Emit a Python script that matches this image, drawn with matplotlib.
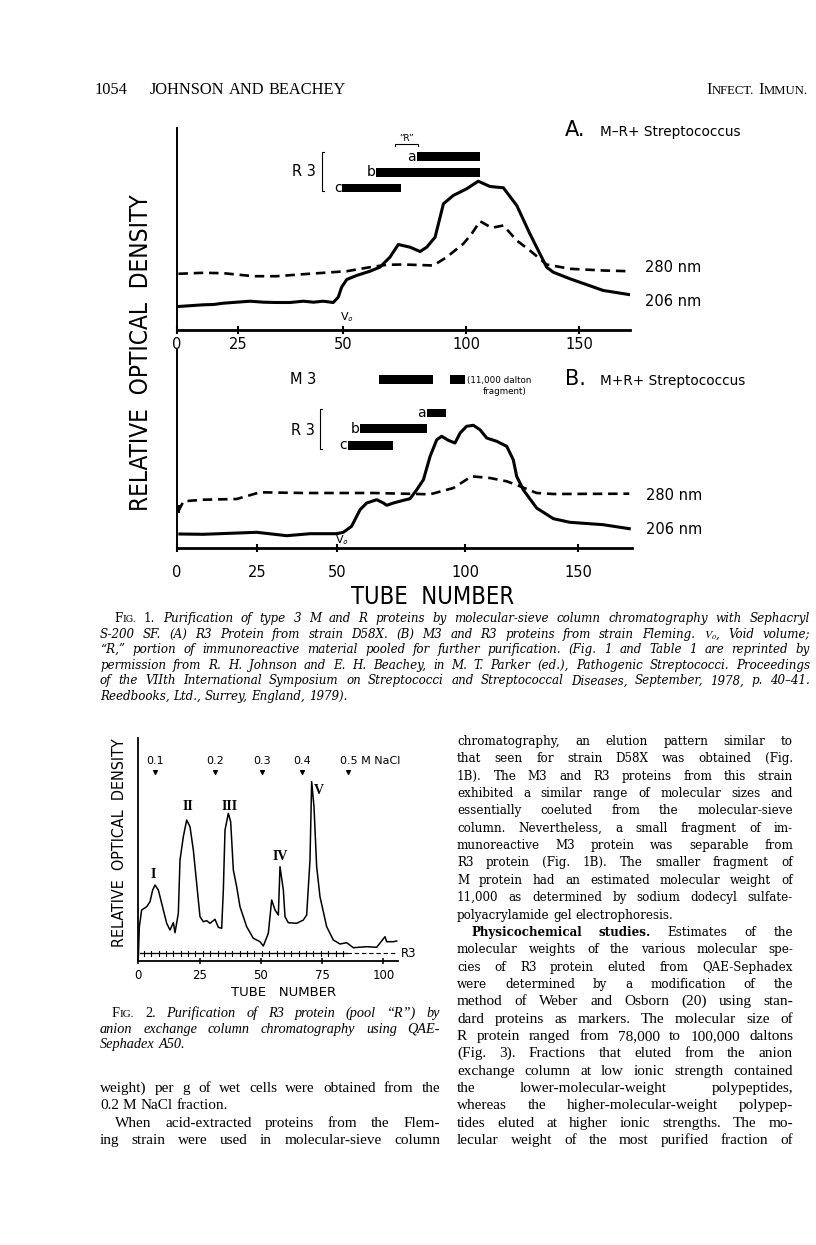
#!/usr/bin/env python
"""
Page 1054 of Johnson & Beachey (Infect. Immun.): Fig. 1 (molecular-sieve
chromatography, panels A and B), Fig. 2 (QAE-Sephadex) and the page text.
Writes out.png.
"""

import numpy as np
import matplotlib

matplotlib.use("Agg")
import matplotlib.pyplot as plt
from matplotlib.lines import Line2D
from matplotlib import patheffects
from matplotlib.ticker import FixedLocator, NullLocator

W, H = 816, 1245

plt.rcParams.update({"mathtext.fontset": "stix", "font.family": "DejaVu Sans"})

# ---------------- Fig. 1A: M-R+ strain (tube number, relative OD) ----------
A206_TUBE = [0.7, 10.8, 14.9, 18.9, 24.3, 27.8, 31.0, 34.1, 37.3, 40.5, 42.9,
             45.2, 47.6, 48.8, 49.6, 51.4, 55.4, 60.9, 64.9, 69.0, 72.4, 77.2,
             81.3, 84.0, 87.4, 90.8, 94.8, 100.3, 105.4, 110.6, 116.5, 122.4,
             128.2, 135.6, 138.5, 145.9, 160.6, 171.8]
A206_OD = [23.0, 24.7, 25.0, 26.3, 27.3, 28.3, 27.3, 27.0, 27.0, 28.3, 27.3,
           28.3, 27.0, 32.3, 42.3, 50.0, 54.0, 58.3, 62.3, 72.3, 85.0, 82.3,
           78.0, 82.3, 92.3, 125.7, 134.0, 140.7, 148.3, 143.0, 141.7, 124.0,
           95.7, 62.3, 57.3, 50.7, 39.0, 35.0]
A280_TUBE = [0.7, 10.8, 18.9, 28.6, 34.1, 40.5, 51.4, 60.9, 67.7, 74.5, 86.7,
             92.1, 98.9, 102.5, 106.2, 111.3, 116.5, 122.4, 128.2, 135.6, 145.9,
             160.6, 171.8]
A280_OD = [55.7, 56.7, 56.3, 53.3, 53.3, 55.3, 58.3, 62.3, 64.7, 65.0, 64.0,
           72.3, 85.7, 95.7, 108.3, 101.7, 104.0, 89.0, 79.0, 65.0, 60.7, 59.0,
           58.3]
A_BAR_LABEL = ["a", "b", "c"]
A_BAR_START = [79.9, 63.3, 49.8]
A_BAR_END = [106.2, 106.2, 73.4]
A_BAR_LEVEL = [172.8, 157.3, 141.5]

# ---------------- Fig. 1B: M+R+ strain ----------------------------------------
B206_TUBE = [1.0, 8.3, 25.0, 34.4, 41.7, 50.0, 52.6, 55.8, 59.1, 61.7, 65.6,
             68.2, 69.5, 72.1, 76.0, 78.6, 81.2, 83.8, 86.4, 89.0, 90.9, 93.5,
             96.1, 98.1, 100.7, 103.7, 106.6, 109.6, 114.0, 118.4, 121.3, 122.8,
             125.7, 131.6, 139.0, 146.3, 161.0, 172.5]
B206_OD = [14.0, 13.7, 15.7, 12.3, 14.3, 14.3, 15.7, 21.7, 38.3, 45.0, 48.3,
           45.0, 42.7, 45.0, 47.7, 49.3, 58.3, 68.3, 91.7, 108.3, 111.7, 107.7,
           105.0, 115.0, 121.7, 122.7, 118.3, 110.0, 106.7, 101.7, 88.3, 71.7,
           58.3, 40.0, 29.3, 25.7, 23.3, 19.3]
B280_TUBE = [0.5, 0.5, 2.1, 8.3, 18.75, 26.0, 39.6, 64.3, 86.4, 95.5, 102.9,
             111.0, 118.4, 124.3, 131.6, 139.0, 172.5]
B280_OD = [41.7, 36.7, 46.7, 48.3, 49.0, 55.7, 55.0, 55.0, 53.7, 60.0, 71.7,
           70.0, 66.7, 61.7, 55.0, 54.0, 54.3]
B_M3_START = [66.6, 94.3]
B_M3_END = [87.7, 99.9]
B_M3_LEVEL = [168.3, 168.3]
B_BAR_LABEL = ["a", "b", "c"]
B_BAR_START = [85.1, 59.1, 54.3]
B_BAR_END = [92.5, 85.1, 71.8]
B_BAR_LEVEL = [135.0, 119.2, 102.8]

FIG1_TICKS = [0, 25, 50, 100, 150]

# ---------------- Fig. 2: QAE-Sephadex A50 -----------------------------------
F2_TUBE = [0.0, 0.42, 1.37, 3.42, 4.78, 5.87, 6.82, 8.18, 9.54, 11.58, 12.94,
           14.30, 14.98, 16.34, 17.02, 18.38, 19.74, 21.1, 22.46, 23.82, 25.18,
           26.54, 27.9, 29.27, 31.31, 32.67, 34.03, 34.71, 35.39, 36.75, 37.7,
           38.79, 40.15, 41.51, 44.23, 46.95, 49.67, 51.03, 53.07, 54.44, 55.8,
           57.16, 57.84, 59.2, 59.88, 61.24, 64.64, 67.36, 68.72, 70.08, 70.76,
           71.71, 72.8, 74.16, 76.88, 79.6, 82.33, 85.05, 87.77, 93.2, 97.29,
           100.69, 101.37, 104.1, 105.46]
F2_OD = [2.7, 34.3, 51.0, 54.3, 59.3, 71.0, 76.0, 71.0, 57.7, 37.7, 31.0,
         38.3, 28.3, 47.7, 101.0, 124.3, 141.0, 134.3, 111.0, 77.7, 44.3,
         39.3, 40.3, 37.7, 41.7, 33.7, 32.7, 71.0, 131.0, 147.7, 139.3,
         91.0, 74.3, 54.3, 34.3, 22.7, 19.3, 15.0, 27.7, 61.0, 51.0,
         46.0, 94.3, 71.0, 44.3, 38.3, 37.7, 41.0, 46.0, 101.0, 179.3,
         154.3, 94.3, 64.3, 34.3, 21.0, 17.0, 18.3, 13.3, 14.3, 13.7,
         24.3, 19.3, 19.3, 20.0]
R3_PLUS_TUBE = [0.8, 85.0]
R3_DASH_TUBE = [85.0, 106.0]
R3_LEVEL = 7.7
SALT_TUBE = [6.8, 31.3, 50.5, 66.7, 85.6]
SALT_LABEL = ["0.1", "0.2", "0.3", "0.4", "0.5 M NaCl"]
PEAK_LABEL = ["I", "II", "III", "IV", "V"]
PEAK_TUBE = [5.9, 20.4, 37.1, 57.8, 73.5]
PEAK_OD = [86.0, 154.3, 154.3, 104.3, 171.0]
FIG2_TICKS = [0, 25, 50, 75, 100]

# ---------------- page text ---------------------------------------------------
FIG1_CAPTION = [
    "FIG. 1. Purification of type 3 M and R proteins by molecular-sieve column chromatography with Sephacryl",
    "S-200 SF. (A) R3 Protein from strain D58X. (B) M3 and R3 proteins from strain Fleming. $V_o$, Void volume;",
    "\u201cR,\u201d portion of immunoreactive material pooled for further purification. (Fig. 1 and Table 1 are reprinted by",
    "permission from R. H. Johnson and E. H. Beachey, in M. T. Parker (ed.), Pathogenic Streptococci. Proceedings",
    "of the VIIth International Symposium on Streptococci and Streptococcal Diseases, September, 1978, p. 40\u201341.",
    "Reedbooks, Ltd., Surrey, England, 1979).",
]
FIG2_CAPTION = [
    "FIG. 2. Purification of R3 protein (pool \u201cR\u201d) by",
    "anion exchange column chromatography using QAE-",
    "Sephadex A50.",
]
LEFT_COL = [
    "weight) per g of wet cells were obtained from the",
    "0.2 M NaCl fraction.",
    "When acid-extracted proteins from the Flem-",
    "ing strain were used in molecular-sieve column",
]
RIGHT_COL = [
    "chromatography, an elution pattern similar to",
    "that seen for strain D58X was obtained (Fig.",
    "1B). The M3 and R3 proteins from this strain",
    "exhibited a similar range of molecular sizes and",
    "essentially coeluted from the molecular-sieve",
    "column. Nevertheless, a small fragment of im-",
    "munoreactive M3 protein was separable from",
    "R3 protein (Fig. 1B). The smaller fragment of",
    "M protein had an estimated molecular weight of",
    "11,000 as determined by sodium dodecyl sulfate-",
    "polyacrylamide gel electrophoresis.",
    "Physicochemical studies. Estimates of the",
    "molecular weights of the various molecular spe-",
    "cies of R3 protein eluted from QAE-Sephadex",
    "were determined by a modification of the",
    "method of Weber and Osborn (20) using stan-",
    "dard proteins as markers. The molecular size of",
    "R protein ranged from 78,000 to 100,000 daltons",
    "(Fig. 3). Fractions that eluted from the anion",
    "exchange column at low ionic strength contained",
    "the lower-molecular-weight polypeptides,",
    "whereas the higher-molecular-weight polypep-",
    "tides eluted at higher ionic strengths. The mo-",
    "lecular weight of the most purified fraction of",
]

# hand-drawn tube axes of Fig. 1: where the tick marks sit on the page (px)
A_AXIS_PX = [176.7, 238.3, 343.3, 466.0, 579.3]
B_AXIS_PX = [176.7, 256.7, 336.7, 465.0, 578.3]

CENTURY = {"family": "DejaVu Serif", "fontsize": 8.6}
TIMES = {"family": "Liberation Serif", "fontsize": 11}
CONDENSED = {"family": "DejaVu Sans", "fontstretch": "condensed"}


def axes_px(fig, left, top, right, bottom):
    return fig.add_axes([left / W, 1 - bottom / H, (right - left) / W, (bottom - top) / H])


def ftext(fig, x, y, s, **kw):
    kw.setdefault("va", "center")
    return fig.text(x / W, 1 - y / H, s, **kw)


def fline(fig, xs, ys, **kw):
    fig.add_artist(Line2D([x / W for x in xs], [1 - y / H for y in ys],
                          color="black", **kw))


def tube_functions(px):
    kt = np.array([-1000.0, 0, 25, 50, 100, 150, 1150.0])
    kp = np.asarray(px, float)
    s0 = (kp[1] - kp[0]) / 25.0
    s1 = (kp[-1] - kp[-2]) / 50.0
    kp = np.r_[kp[0] - 1000 * s0, kp, kp[-1] + 1000 * s1]
    return (lambda t: np.interp(t, kt, kp)), (lambda p: np.interp(p, kp, kt))


def space_width(fig, style):
    rend = fig.canvas.get_renderer()
    a = fig.text(0, 0, "n n", **style)
    b = fig.text(0, 0, "nn", **style)
    w = a.get_window_extent(rend).width - b.get_window_extent(rend).width
    a.remove()
    b.remove()
    return w


def set_words(fig, words, x0, x1, y, style, justify=True, align="left"):
    rend = fig.canvas.get_renderer()
    groups = []
    for word in words:
        runs = word if isinstance(word, list) else [(word, {})]
        parts = []
        for txt, extra in runs:
            t = fig.text(0, 1 - y / H, txt, ha="left", va="baseline", **{**style, **extra})
            parts.append((t, t.get_window_extent(rend).width))
        groups.append(parts)
    widths = [sum(w for _, w in g) for g in groups]
    if justify and len(groups) > 1:
        gap = (x1 - x0 - sum(widths)) / (len(groups) - 1)
    else:
        gap = space_width(fig, style)
    if align == "right":
        x0 = x1 - sum(widths) - gap * (len(groups) - 1)
    x = x0
    for g, wd in zip(groups, widths):
        xx = x
        for t, w in g:
            t.set_x(xx / W)
            xx += w
        x += wd + gap


def small_caps(word, size, extra=None):
    extra = extra or {}
    return [(word[0], dict(extra)), (word[1:].upper(), {**extra, "fontsize": size * 0.78})]


def caption(fig, lines, x0, x1, y0, step, style, indent):
    roman = {"style": "normal"}
    for i, line in enumerate(lines):
        words = line.split()
        if i == 0:
            words = [small_caps("FIG.", style["fontsize"], roman), [(words[1], roman)]] + words[2:]
        last = i == len(lines) - 1
        set_words(fig, words, x0 + (indent if i == 0 else 0), x1, y0 + i * step,
                  style, justify=not last)


def style_fig1_panel(ax, xmax, ytop, pad):
    ax.set_xlim(0, xmax)
    ax.set_ylim(0, ytop)
    ax.patch.set_alpha(0)
    for s in ("top", "right"):
        ax.spines[s].set_visible(False)
    ax.spines["bottom"].set_linewidth(2.0)
    ax.spines["left"].set_linewidth(1.4)
    ax.set_yticks([])
    ax.xaxis.set_major_locator(FixedLocator(FIG1_TICKS))
    ax.xaxis.set_minor_locator(NullLocator())
    ax.set_xticklabels([str(t) for t in FIG1_TICKS])
    ax.tick_params(axis="x", direction="inout", length=6, width=1.5, pad=pad,
                   labelsize=10.5)


def bars(ax, labels, starts, ends, levels):
    widths = np.asarray(ends) - np.asarray(starts)
    ax.barh(levels, widths, left=starts, height=8.7, color="black")
    for lab, x0, lv in zip(labels, starts, levels):
        ax.annotate(lab, (x0, lv), xytext=(-0.5, 0), textcoords="offset points",
                    ha="right", va="center", fontsize=10)


def main():
    fig = plt.figure(figsize=(W / 100, H / 100), dpi=100)

    # ---- header
    head = {"family": "Liberation Serif", "fontsize": 11.8}
    set_words(fig, ["1054"], 95, 140, 94, head, justify=False)
    set_words(fig, ["JOHNSON", "AND", "BEACHEY"], 150, 400, 94, head, justify=False)
    set_words(fig, [small_caps("INFECT.", 11.8), small_caps("IMMUN.", 11.8)], 600, 808, 94,
              head, justify=False, align="right")

    # ---- Fig. 1A
    fwd_a, inv_a = tube_functions(A_AXIS_PX)
    xmax_a = 172.5
    ax_a = axes_px(fig, A_AXIS_PX[0], 128, float(fwd_a(xmax_a)), 329.5)
    ax_a.set_xscale("function", functions=(fwd_a, inv_a))
    style_fig1_panel(ax_a, xmax_a, 201.5, 2.7)
    ax_a.plot(A206_TUBE, A206_OD, color="black", lw=2.2, solid_joinstyle="round")
    ax_a.plot(A280_TUBE, A280_OD, color="black", lw=1.9, ls=(0, (3.6, 2.2)))
    bars(ax_a, A_BAR_LABEL, A_BAR_START, A_BAR_END, A_BAR_LEVEL)

    ftext(fig, 304, 171, "R 3", fontsize=10.5, ha="center")
    fline(fig, [323.5, 321.7, 321.7, 323.5], [151.5, 151.5, 190.7, 190.7], lw=0.8)
    ftext(fig, 406.5, 138.5, "\u201cR\u201d", fontsize=6.5, ha="center")
    fline(fig, [395, 395, 418, 418], [146, 143.5, 143.5, 146], lw=0.8)
    ftext(fig, 575, 130, "A.", fontsize=15, ha="center")
    ftext(fig, 600, 132, "M\u2013R+ Streptococcus", fontsize=9.8, ha="left")
    ftext(fig, 645, 267, "280 nm", fontsize=10.5, ha="left")
    ftext(fig, 645, 301, "206 nm", fontsize=10.5, ha="left")
    ftext(fig, 347, 317, r"V$_{\mathsf{o}}$", fontsize=8, ha="center")

    # ---- Fig. 1B
    fwd_b, inv_b = tube_functions(B_AXIS_PX)
    xmax_b = 173.5
    ax_b = axes_px(fig, B_AXIS_PX[0], 350, float(fwd_b(xmax_b)), 548)
    ax_b.set_xscale("function", functions=(fwd_b, inv_b))
    style_fig1_panel(ax_b, xmax_b, 198, 9.0)
    ax_b.plot(B206_TUBE, B206_OD, color="black", lw=2.2, solid_joinstyle="round")
    ax_b.plot(B280_TUBE[1:], B280_OD[1:], color="black", lw=1.9, ls=(0, (3.6, 2.2)))
    ax_b.plot(B280_TUBE[:2], B280_OD[:2], color="black", lw=2.2)
    ax_b.barh(B_M3_LEVEL, np.asarray(B_M3_END) - np.asarray(B_M3_START),
              left=B_M3_START, height=8.7, color="black")
    bars(ax_b, B_BAR_LABEL, B_BAR_START, B_BAR_END, B_BAR_LEVEL)

    ftext(fig, 303, 380, "M 3", fontsize=10.5, ha="center")
    ftext(fig, 303, 430, "R 3", fontsize=10.5, ha="center")
    fline(fig, [322, 320, 320, 322], [409, 409, 449, 449], lw=0.8)
    ftext(fig, 467, 380, "(11,000 dalton", fontsize=6.3, ha="left")
    ftext(fig, 483, 392, "fragment)", fontsize=6.3, ha="left")
    ftext(fig, 575, 379, "B.", fontsize=15, ha="center")
    ftext(fig, 600, 381, "M+R+ Streptococcus", fontsize=9.8, ha="left")
    ftext(fig, 646, 495, "280 nm", fontsize=10.5, ha="left")
    ftext(fig, 646, 530, "206 nm", fontsize=10.5, ha="left")
    ftext(fig, 342, 540, r"V$_{\mathsf{o}}$", fontsize=8, ha="center")

    ftext(fig, 141, 353, "RELATIVE  OPTICAL  DENSITY", rotation=90, fontsize=17.5,
          ha="center", **CONDENSED)
    ftext(fig, 433, 604, "TUBE  NUMBER", fontsize=17, ha="center", va="baseline",
          **CONDENSED)

    caption(fig, FIG1_CAPTION, 100, 810, 622, 15.6,
            {"family": "DejaVu Serif", "style": "italic", "fontsize": 8.6}, 14)

    # ---- Fig. 2
    ax2 = axes_px(fig, 138.3, 738, 398, 961)
    ax2.set_xlim(0, (398 - 138.3) / 2.45)
    ax2.set_ylim(0, 223)
    ax2.patch.set_alpha(0)
    for s in ("top", "right"):
        ax2.spines[s].set_visible(False)
    ax2.spines["bottom"].set_linewidth(1.3)
    ax2.spines["left"].set_linewidth(1.3)
    ax2.set_yticks([])
    ax2.set_xticks(FIG2_TICKS)
    ax2.tick_params(axis="x", direction="inout", length=5, width=1.1, pad=3, labelsize=8.5)
    ax2.plot(F2_TUBE, F2_OD, color="black", lw=1.1)
    tick_fx = [patheffects.withTickedStroke(angle=90, spacing=5.2, length=0.38, linewidth=0.8),
               patheffects.withTickedStroke(angle=-90, spacing=5.2, length=0.38, linewidth=0.8),
               patheffects.Normal()]
    ax2.plot(R3_PLUS_TUBE, [R3_LEVEL] * 2, color="black", lw=0.8, path_effects=tick_fx)
    ax2.plot(R3_DASH_TUBE, [R3_LEVEL] * 2, color="black", lw=0.8, ls=(0, (4, 2.5)))
    ax2.annotate("R3", (R3_DASH_TUBE[1], R3_LEVEL), xytext=(2, 0), textcoords="offset points",
                 ha="left", va="center", fontsize=8.5, annotation_clip=False)
    ax2.scatter(SALT_TUBE, [189.5] * len(SALT_TUBE), marker="v", s=7, color="black",
                clip_on=False)
    for t, lab in zip(SALT_TUBE, SALT_LABEL):
        if " " in lab:
            ax2.annotate(lab, (t, 199.5), xytext=(-5.5, 0), textcoords="offset points",
                         ha="left", va="center", fontsize=8, annotation_clip=False)
        else:
            ax2.text(t, 199.5, lab, ha="center", va="center", fontsize=8)
    for lab, t, od in zip(PEAK_LABEL, PEAK_TUBE, PEAK_OD):
        ax2.text(t, od, lab, ha="center", va="center", fontsize=10,
                 family="Liberation Serif", weight="bold")

    ftext(fig, 120, 843, "RELATIVE  OPTICAL  DENSITY", rotation=90, fontsize=11.5,
          ha="center", **CONDENSED)
    ftext(fig, 284, 993, "TUBE   NUMBER", fontsize=9.5, ha="center")

    caption(fig, FIG2_CAPTION, 100, 440, 1017, 15.6,
            {"family": "Liberation Serif", "style": "italic", "fontsize": 10.3}, 12)

    # ---- body text
    base = 745.0
    step = 17.35
    for i, line in enumerate(LEFT_COL):
        set_words(fig, line.split(), 100 + (15 if i == 2 else 0), 440,
                  base + (20 + i) * step, TIMES, justify=(i != 1))
    for i, line in enumerate(RIGHT_COL):
        words = line.split()
        if i == 11:
            words = [[(words[0], {"weight": "bold"})], [(words[1], {"weight": "bold"})]] + words[2:]
        style = CENTURY if i < 15 else TIMES
        set_words(fig, words, 457 + (14 if i == 11 else 0), 793, base + i * step, style,
                  justify=(i != 10))

    fig.savefig("out.png", dpi=100)
    plt.close(fig)


if __name__ == "__main__":
    main()
